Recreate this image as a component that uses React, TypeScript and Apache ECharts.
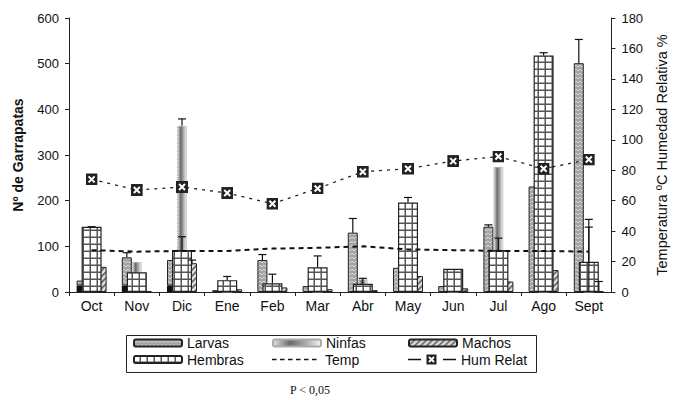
import React, { useEffect, useRef } from "react";
import * as echarts from "echarts";

const categories = ["Oct", "Nov", "Dic", "Ene", "Feb", "Mar", "Abr", "May", "Jun", "Jul", "Ago", "Sept"];
const larvas = [25, 76, 70, 4, 70, 13, 130, 53, 13, 143, 231, 501];
const larvasBase = [14, 14, 14, 0, 0, 0, 0, 0, 0, 0, 0, 0];
const larvasErr = [null, 86, null, null, 82, null, 161, null, null, 147, null, 553];
const ninfas = [8, 66, 364, 0, 5, 0, 28, 10, 0, 274, 0, 0];
const ninfasErr = [null, null, 379, null, null, null, null, null, null, null, null, 142];
const machos = [55, 2, 63, 6, 10, 6, 4, 35, 8, 23, 48, 2];
const machosErr = [null, null, 70, null, null, null, null, null, null, null, null, 23];
const hembras = [143, 43, 92, 26, 19, 54, 18, 196, 51, 92, 518, 66];
const hembrasErr = [143, null, 121, 34, 39, 79, 30, 207, null, 118, 524, 159];
const temp = [27.5, 26.5, 27, 27, 28.5, 29, 30, 28, 27.5, 27, 27, 26.5];
const humRelat = [74, 67, 69, 65, 58, 68, 79, 81, 86, 89, 81, 87];

const FONT = "'Liberation Sans', Arial, sans-serif";

const svgUri = (s: string) => "data:image/svg+xml;charset=utf-8," + encodeURIComponent(s);

const larvasTile = svgUri(
  "<svg xmlns='http://www.w3.org/2000/svg' width='4' height='4'><rect width='4' height='4' fill='#a4a4a4'/><path d='M0 1 L2 3 L4 1' stroke='#d6d6d6' stroke-width='1' fill='none'/></svg>"
);
const machosTile = svgUri(
  "<svg xmlns='http://www.w3.org/2000/svg' width='6' height='6'><rect width='6' height='6' fill='#dedede'/><path d='M-1 7 L7 -1 M-1 1 L1 -1 M5 7 L7 5' stroke='#666' stroke-width='1.6'/></svg>"
);
const hembrasTile = svgUri(
  "<svg xmlns='http://www.w3.org/2000/svg' width='7' height='7'><rect width='7' height='7' fill='#ffffff'/><path d='M6.25 0 V7 M0 6.25 H7' stroke='#555' stroke-width='1.5'/></svg>"
);
const humSymbol =
  "image://" +
  svgUri(
    "<svg xmlns='http://www.w3.org/2000/svg' width='12' height='12'><rect width='12' height='12' fill='#222'/><path d='M3 3 L9 9 M9 3 L3 9' stroke='#fff' stroke-width='2'/></svg>"
  );
const tempLegendIcon =
  "image://" +
  svgUri(
    "<svg xmlns='http://www.w3.org/2000/svg' width='48' height='7'><path d='M0 3.5 H48' stroke='#111' stroke-width='1.3' stroke-dasharray='4.5 3.5'/></svg>"
  );
const humLegendIcon =
  "image://" +
  svgUri(
    "<svg xmlns='http://www.w3.org/2000/svg' width='48' height='11'><path d='M0 5.5 H13 M35 5.5 H48' stroke='#111' stroke-width='1.5'/><rect x='18.5' y='0.5' width='10' height='10' fill='#222'/><path d='M21 3 L26 8 M26 3 L21 8' stroke='#fff' stroke-width='1.8'/></svg>"
  );

function errSeries(name: string, vals: number[], errs: (number | null)[], offset: number) {
  const data: number[][] = [];
  errs.forEach((e, i) => {
    if (e != null) data.push([i, e, vals[i]]);
  });
  return {
    type: "custom",
    name,
    xAxisIndex: 0,
    yAxisIndex: 0,
    z: 6,
    silent: true,
    encode: { x: 0, y: 1 },
    data,
    renderItem: (params: any, api: any) => {
      const top = api.coord([api.value(0), api.value(1)]);
      const base = api.coord([api.value(0), api.value(2)]);
      const x = top[0] + offset;
      return {
        type: "group",
        children: [
          { type: "line", shape: { x1: x, y1: base[1], x2: x, y2: top[1] }, style: { stroke: "#111", lineWidth: 1.2 } },
          { type: "line", shape: { x1: x - 4, y1: top[1], x2: x + 4, y2: top[1] }, style: { stroke: "#111", lineWidth: 1.2 } },
        ],
      };
    },
  };
}

export default function App() {
  const ref = useRef<HTMLDivElement>(null);
  useEffect(() => {
    if (!ref.current) return;
    const chart = echarts.init(ref.current, null, { renderer: "svg" });
    const lg = (left: number, top: number, item: any, itemHeight = 7) => ({
      orient: "horizontal",
      left,
      top,
      itemWidth: 48,
      itemHeight,
      padding: 0,
      selectedMode: false,
      textStyle: { fontSize: 14, color: "#111", fontFamily: FONT },
      data: [item],
    });
    const row1 = 336;
    const row2 = 352.5;
    const option: any = {
      animation: false,
      backgroundColor: "#fff",
      grid: { left: 69, right: 64, top: 18, bottom: 108 },
      legend: [
        lg(133, row1, "Larvas"),
        lg(272, row1, "Ninfas"),
        lg(408, row1, "Machos"),
        lg(133, row2, "Hembras"),
        lg(272, row2, { name: "Temp", icon: tempLegendIcon }),
        lg(408, row2, { name: "Hum Relat", icon: humLegendIcon }, 11),
      ],
      xAxis: [
        {
          type: "category",
          data: categories,
          axisLine: { lineStyle: { color: "#222", width: 1 } },
          axisTick: { show: true, length: 4, lineStyle: { color: "#222" } },
          axisLabel: { fontSize: 14, color: "#111", fontFamily: FONT, margin: 7 },
        },
        { type: "category", data: categories, show: false },
      ],
      yAxis: [
        {
          type: "value",
          min: 0,
          max: 600,
          interval: 100,
          name: "Nº de Garrapatas",
          nameLocation: "middle",
          nameGap: 44,
          nameTextStyle: { fontSize: 14, fontWeight: "bold", color: "#111", fontFamily: FONT },
          axisLine: { show: true, lineStyle: { color: "#222" } },
          axisTick: { show: true, length: 4, lineStyle: { color: "#222" } },
          axisLabel: { fontSize: 13, color: "#111", fontFamily: FONT, margin: 10 },
          splitLine: { show: false },
        },
        {
          type: "value",
          min: 0,
          max: 180,
          interval: 20,
          position: "right",
          name: "Temperatura ºC Humedad Relativa %",
          nameLocation: "middle",
          nameGap: 40,
          nameTextStyle: { fontSize: 14.5, color: "#111", fontFamily: FONT },
          axisLine: { show: true, lineStyle: { color: "#222" } },
          axisTick: { show: true, length: 4, lineStyle: { color: "#222" } },
          axisLabel: { fontSize: 13, color: "#111", fontFamily: FONT, margin: 10 },
          splitLine: { show: false },
        },
      ],
      graphic: [
        {
          type: "rect",
          left: 124,
          top: 333,
          shape: { width: 410, height: 37 },
          style: { fill: "none", stroke: "#222", lineWidth: 1 },
          silent: true,
        },
        {
          type: "text",
          left: 290,
          top: 384,
          style: { text: "P < 0,05", font: "12px 'Liberation Serif', 'Times New Roman', serif", fill: "#111" },
          silent: true,
        },
      ],
      series: [
        {
          type: "bar",
          name: "larvasBase",
          stack: "lv",
          xAxisIndex: 0,
          barWidth: 10,
          barGap: "0%",
          z: 2,
          itemStyle: { color: "#111" },
          data: larvasBase,
        },
        {
          type: "bar",
          name: "Larvas",
          stack: "lv",
          xAxisIndex: 0,
          barWidth: 10,
          barGap: "0%",
          z: 2,
          itemStyle: {
            color: { image: larvasTile, repeat: "repeat", imageWidth: 4, imageHeight: 4 },
            borderColor: "#222",
            borderWidth: 1,
          },
          data: larvas.map((v, i) => v - larvasBase[i]),
        },
        {
          type: "bar",
          name: "Ninfas",
          xAxisIndex: 0,
          barWidth: 10,
          barGap: "0%",
          z: 2,
          itemStyle: {
            color: {
              type: "linear",
              x: 0,
              y: 0,
              x2: 1,
              y2: 0,
              colorStops: [
                { offset: 0, color: "#e6e6e6" },
                { offset: 0.35, color: "#6a6a6a" },
                { offset: 0.6, color: "#9a9a9a" },
                { offset: 1, color: "#f2f2f2" },
              ],
            },
            borderColor: "#aaa",
            borderWidth: 1,
            borderType: "dotted",
          },
          data: ninfas,
        },
        {
          type: "bar",
          name: "Machos",
          xAxisIndex: 0,
          barWidth: 10,
          barGap: "0%",
          z: 2,
          itemStyle: {
            color: { image: machosTile, repeat: "repeat", imageWidth: 6, imageHeight: 6 },
            borderColor: "#222",
            borderWidth: 1,
          },
          data: machos,
        },
        {
          type: "bar",
          name: "Hembras",
          xAxisIndex: 1,
          barWidth: 20,
          z: 3,
          itemStyle: {
            color: { image: hembrasTile, repeat: "repeat", imageWidth: 7, imageHeight: 7 },
            borderColor: "#222",
            borderWidth: 1.2,
          },
          data: hembras,
        },
        errSeries("errLarvas", larvas, larvasErr, -10),
        errSeries("errNinfas", ninfas, ninfasErr, 0),
        errSeries("errMachos", machos, machosErr, 10),
        errSeries("errHembras", hembras, hembrasErr, 0),
        {
          type: "line",
          name: "Temp",
          yAxisIndex: 1,
          xAxisIndex: 0,
          z: 7,
          symbol: "none",
          lineStyle: { color: "#111", width: 2, type: [5, 4] },
          itemStyle: { color: "#111" },
          data: temp,
        },
        {
          type: "line",
          name: "Hum Relat",
          yAxisIndex: 1,
          xAxisIndex: 0,
          z: 8,
          symbol: humSymbol,
          symbolSize: 12,
          lineStyle: { color: "#222", width: 1.3, type: [3, 5] },
          itemStyle: { color: "#222" },
          data: humRelat,
        },
      ],
    };
    chart.setOption(option);
    return () => chart.dispose();
  }, []);
  return (
    <div
      ref={ref}
      style={{ position: "absolute", left: 0, top: 0, width: 677, height: 400, background: "#fff" }}
    />
  );
}
